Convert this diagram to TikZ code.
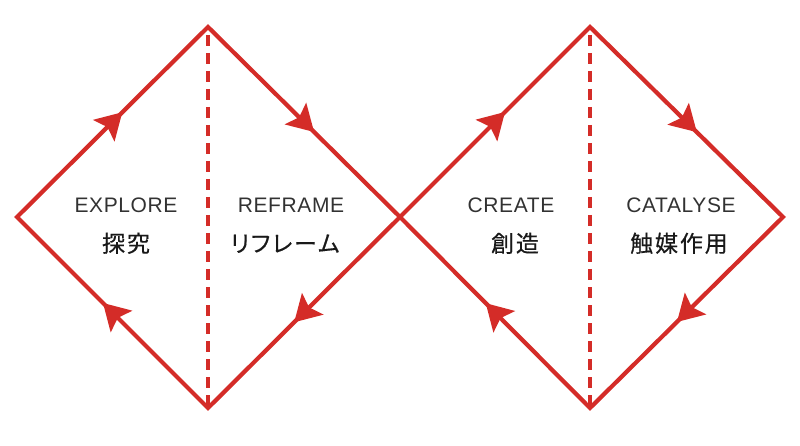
\documentclass[tikz,border=0pt]{standalone}
\usepackage{fontspec}
\setmainfont{Liberation Sans}
\newfontfamily\latinfont{Liberation Sans}[LetterSpace=3]
\newfontfamily\jpfont{Noto Sans CJK JP}[LetterSpace=8,RawFeature=+palt,FakeBold=0.4]
\usetikzlibrary{arrows.meta,decorations.markings}

\definecolor{loopred}{RGB}{212,44,40}
\definecolor{labelgray}{RGB}{50,50,50}
\definecolor{jpblack}{RGB}{25,25,25}

\tikzset{
  loopline/.style={color=loopred, line width=4.2pt, line join=miter,
    postaction={decorate},
    decoration={markings,
      mark=at position 0.1375 with {\arrow{Stealth[length=26pt,width=30pt,inset=5pt]}},
      mark=at position 0.3875 with {\arrow{Stealth[length=26pt,width=30pt,inset=5pt]}},
      mark=at position 0.6375 with {\arrow{Stealth[length=26pt,width=30pt,inset=5pt]}},
      mark=at position 0.8875 with {\arrow{Stealth[length=26pt,width=30pt,inset=5pt]}}}},
  divider/.style={loopred, line width=4.2pt, dash pattern=on 11pt off 7pt, dash phase=-8pt},
  enlabel/.style={anchor=base, inner sep=0pt, text=labelgray, font=\latinfont\fontsize{21}{24}\selectfont},
  jplabel/.style={anchor=base, inner sep=0pt, text=jpblack, font=\jpfont\fontsize{23}{27}\selectfont}
}

\begin{document}
\begin{tikzpicture}[>=Stealth, x=1pt, y=-1pt]
  \useasboundingbox (0,0) rectangle (800,446);

  %--- corners of the two diamonds
  \coordinate (W)  at (17,217);
  \coordinate (NL) at (208,27);
  \coordinate (SL) at (208,408);
  \coordinate (C)  at (400,217);
  \coordinate (NR) at (590,27);
  \coordinate (SR) at (590,408);
  \coordinate (E)  at (783,217);

  %--- dashed dividers
  \draw[divider] (NL) -- (SL);
  \draw[divider] (NR) -- (SR);

  %--- the two loops, both clockwise
  \draw[loopline] (W) -- (NL) -- (C) -- (SL) -- cycle;
  \draw[loopline] (C) -- (NR) -- (E) -- (SR) -- cycle;

  %--- labels
  \node[enlabel] (explore)  at (126,213) {EXPLORE};
  \node[enlabel] (reframe)  at (291,213) {REFRAME};
  \node[enlabel] (create)   at (511,213) {CREATE};
  \node[enlabel] (catalyse) at (681,213) {CATALYSE};

  \node[jplabel] (tankyu)   at (126,252) {探究};
  \node[jplabel] (rifurem)  at (285,252) {リフレーム};
  \node[jplabel] (sozo)     at (515,252) {創造};
  \node[jplabel] (shokubai) at (679,252) {触媒作用};
\end{tikzpicture}
\end{document}
